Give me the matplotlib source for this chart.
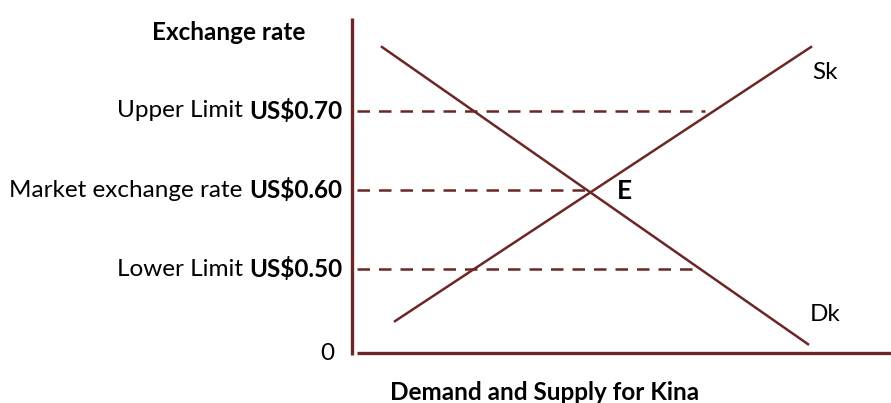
import matplotlib
matplotlib.use("Agg")
import matplotlib.pyplot as plt

# Data (quantity in arbitrary units, exchange rate in US$)
demand_q = [3.0, 45.6]
demand_p = [0.780, 0.406]
supply_q = [4.3, 45.9]
supply_p = [0.435, 0.780]
levels = [0.70, 0.60, 0.50]
level_names = ["Upper Limit ", "Market exchange rate ", "Lower Limit "]
level_values = ["US$0.70", "US$0.60", "US$0.50"]
dash_end = [35.3, 24.1, 34.8]
xlim = (0, 53.9)
ylim = (0.3924, 0.8165)

col = "#6B2727"
plt.rcParams['font.family'] = ['Lato', 'DejaVu Sans']
fs = 17.5

fig = plt.figure(figsize=(8.91, 4.03), dpi=100)
ax = fig.add_axes([352/891, 1-355/403, 1-352/891, (355-18)/403])
ax.set_xlim(*xlim)
ax.set_ylim(*ylim)
for s in ax.spines.values():
    s.set_visible(False)
ax.set_xticks([])
ax.set_yticks([])

# axes lines
ax.plot([0, 0], [0, 1], transform=ax.transAxes, color=col, lw=2.4, clip_on=False, solid_capstyle='butt')
ax.plot([5/539, 1], [2/337, 2/337], transform=ax.transAxes, color=col, lw=2.4, clip_on=False, solid_capstyle='butt')

ax.plot(demand_q, demand_p, color=col, lw=1.8)
ax.plot(supply_q, supply_p, color=col, lw=1.8)

for lv, xe, nm, vv in zip(levels, dash_end, level_names, level_values):
    ax.plot([0.5, xe], [lv, lv], color=col, lw=1.8, linestyle=(0, (5, 3.6)))
    t = ax.annotate(vv, xy=(0, lv), xycoords='data', xytext=(-7.2, 0), textcoords='offset points',
                    ha='right', va='center', fontsize=fs, fontweight='bold', color='black')
    fig.canvas.draw()
    bb = t.get_window_extent()
    ax.annotate(nm, xy=(bb.x0, (bb.y0+bb.y1)/2), xycoords='figure pixels',
                ha='right', va='center', fontsize=fs, color='black')

ax.text(-1.8, ylim[0] + 0.0015, "0", ha='right', va='center', fontsize=fs, color='black')
ax.text(-12.3, 0.60 + (189-32)/790, "Exchange rate", ha='center', va='center', fontsize=fs, fontweight='bold')
ax.text(46.0, 0.60 + (189-72)/790, "Sk", ha='left', va='center', fontsize=fs)
ax.text(45.8, 0.60 + (189-313)/790, "Dk", ha='left', va='center', fontsize=fs)
ax.text(26.5, 0.60 + (189-190)/790, "E", ha='left', va='center', fontsize=fs+1.5, fontweight='bold')
fig.text(545/891, 1-393/403, "Demand and Supply for Kina", ha='center', va='center', fontsize=fs, fontweight='bold')

fig.savefig("out.png", dpi=100)
